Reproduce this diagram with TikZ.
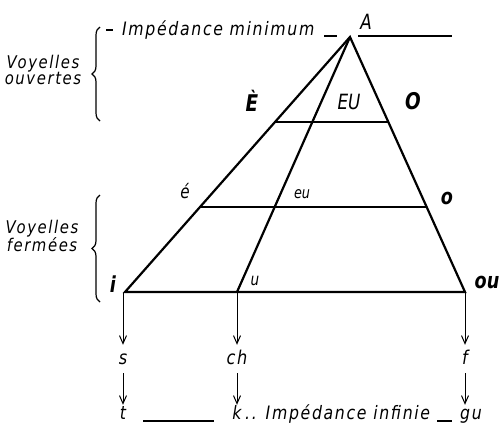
\documentclass[tikz,border=0pt]{standalone}
\usepackage{fontspec}
\usepackage{graphicx}
\newfontfamily\lab{DejaVu Sans}[FakeStretch=0.85, LetterSpace=9]
\newfontfamily\labn{DejaVu Sans}[FakeStretch=0.8]
\usetikzlibrary{arrows.meta,calc,decorations.pathreplacing}
\begin{document}
\begin{tikzpicture}[x=1pt,y=-1pt,
  txt/.style={font=\lab\itshape\fontsize{18.5}{18.5}\selectfont, inner sep=0pt},
  side/.style={font=\lab\itshape\fontsize{17.5}{16}\selectfont, inner sep=0pt, align=center},
  boldl/.style={font=\labn\bfseries\itshape\fontsize{#1}{#1}\selectfont, inner sep=0pt},
  norml/.style={font=\labn\itshape\fontsize{#1}{#1}\selectfont, inner sep=0pt},
  col/.style={font=\lab\itshape\fontsize{19}{19}\selectfont, anchor=base, text height=13pt, text depth=3pt, inner xsep=1pt, inner ysep=6pt},
  bot/.style={font=\lab\itshape\fontsize{18.5}{18.5}\selectfont, anchor=base, text height=13pt, text depth=4pt, inner xsep=1pt, inner ysep=1pt},
  tri/.style={line width=2.2pt},
  thin/.style={line width=1.3pt},
  arr/.style={line width=1pt, -{Straight Barb[length=8pt,width=7pt]}},
  brc/.style={line width=1.2pt, decorate, decoration={brace, amplitude=8pt}}
]
\useasboundingbox (0,0) rectangle (502,429);
% triangle
\coordinate (A) at (350,37);
\coordinate (L) at (125,292);
\coordinate (M) at (237,292);
\coordinate (R) at (465,292);
\draw[tri] (A) -- (L) -- (R) -- cycle;
\draw[tri] (A) -- (M);
\draw[tri] ($(A)!1/3!(L)$) -- ($(A)!1/3!(R)$);
\draw[tri] ($(A)!2/3!(L)$) -- ($(A)!2/3!(R)$);
% top line
\node[txt, anchor=base west] (imin) at (122,35) {Impédance minimum};
\draw[thin] (106,30) -- (113,30);
\draw[thin] (324,36) -- (337,36);
\draw[thin] (358,36) -- (452,36);
\node[norml=21] (Alab) at (366,22) {A};
% vowel labels
\node[boldl=23] (Eg) at (252,101) {È};
\node[norml=21] (EU) at (349,102) {EU};
\node[boldl=23] (O) at (413,101) {O};
\node[norml=19] (ea) at (185,191) {é};
\node[norml=16] (eu) at (302,194) {eu};
\node[boldl=22] (o) at (447,198) {o};
\node[boldl=22] (i) at (113,284) {i};
\node[norml=17] (u) at (255,281) {u};
\node[boldl=22] (ou) at (487,282) {ou};
% side texts and braces
\node[side] (vo) at (43,70) {Voyelles\\ouvertes};
\node[side] (vf) at (42,236) {Voyelles\\fermées};
\draw[brc] (100,121) -- (100,27);
\draw[brc] (100,302) -- (100,195);
% consonants
\coordinate (s0) at (123,293);
\coordinate (ch0) at (237,293);
\coordinate (f0) at (465,293);
\node[col] (s) at (123,364) {s};
\node[col] (ch) at (237,364) {ch};
\node[col] (f) at (465,364) {f};
\draw[arr] (s0) -- (s);
\draw[arr] (ch0) -- (ch);
\draw[arr] (f0) -- (f);
\node[bot] (t) at (123,419) {t};
\node[bot] (k) at (237,419) {k};
\node[bot, anchor=base west] (gu) at (459,419) {gu};
\node[txt, anchor=base west] (iinf) at (245,419) {.. Impédance infinie};
\draw[arr] (s) -- (t);
\draw[arr] (ch) -- (k);
\draw[arr] (f) -- (f |- gu.north);
\draw[thin] (143,421) -- (214,421);
\draw[thin] (437,421) -- (452,421);
\end{tikzpicture}
\end{document}
